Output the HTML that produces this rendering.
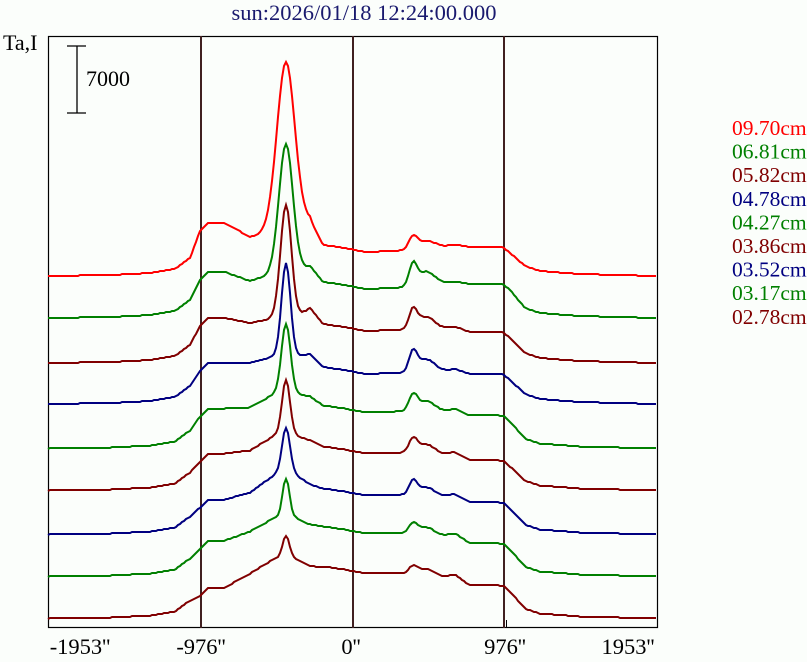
<!DOCTYPE html>
<html><head><meta charset="utf-8"><style>
html,body{margin:0;padding:0;background:#fbfefb;}
svg{display:block;}
text{font-family:"Liberation Serif",serif;}
</style></head><body>
<svg id="s" width="807" height="662" xmlns="http://www.w3.org/2000/svg">
<rect x="0" y="0" width="807" height="662" fill="#fbfefb"/>
<text x="364" y="20" font-size="22.5" fill="#1a1a6e" text-anchor="middle">sun:2026/01/18 12:24:00.000</text>
<text x="3" y="50" font-size="22" fill="#000">Ta,I</text>
<line x1="77" y1="46" x2="77" y2="113" stroke="#000" stroke-width="1.3"/>
<line x1="67" y1="46" x2="86" y2="46" stroke="#000" stroke-width="1.3"/>
<line x1="67" y1="113" x2="86" y2="113" stroke="#000" stroke-width="1.3"/>
<text x="86" y="86" font-size="22" fill="#000">7000</text>
<rect x="48.5" y="36.5" width="609" height="591" fill="none" stroke="#000" stroke-width="1.2"/>
<line x1="201" y1="36" x2="201" y2="628" stroke="#402020" stroke-width="2"/>
<line x1="353" y1="36" x2="353" y2="628" stroke="#402020" stroke-width="2"/>
<line x1="504" y1="36" x2="504" y2="628" stroke="#402020" stroke-width="2"/>
<line x1="506.5" y1="620" x2="506.5" y2="628" stroke="#000" stroke-width="1"/>
<g id="curves"></g>
<g font-size="22.5" fill="#000" text-anchor="middle">
<text x="80" y="654">-1953''</text>
<text x="201" y="654">-976''</text>
<text x="351" y="654">0''</text>
<text x="505" y="654">976''</text>
<text x="628" y="654">1953''</text>
</g>
<g font-size="21.5">
<text x="732" y="135" fill="#ff0000">09.70cm</text>
<text x="732" y="158.6" fill="#008000">06.81cm</text>
<text x="732" y="182.2" fill="#800000">05.82cm</text>
<text x="732" y="205.8" fill="#000080">04.78cm</text>
<text x="732" y="229.4" fill="#008000">04.27cm</text>
<text x="732" y="253" fill="#800000">03.86cm</text>
<text x="732" y="276.6" fill="#000080">03.52cm</text>
<text x="732" y="300.2" fill="#008000">03.17cm</text>
<text x="732" y="323.8" fill="#800000">02.78cm</text>
</g>
</svg>
<script>
var C=[
{b:276,c:'#ff0000',L:53,D:39,C:45,S:55,M:28,R:29,P:169,ps:9,B1:12,B2:8},
{b:318,c:'#008000',L:46,D:37,C:45,S:52,M:33,R:34,P:129,ps:7,B1:20,B2:14},
{b:363,c:'#800000',L:45,D:40,C:45,S:55,M:36,R:31,P:113,ps:5.5,B1:18,B2:13},
{b:404,c:'#000080',L:41,D:41,C:48,S:50,M:34,R:30,P:93,ps:4.5,B1:19,B2:13},
{b:448.5,c:'#008000',L:40,D:41,C:55,S:52,M:40,R:33,P:70,ps:4.5,B1:15,B2:11},
{b:490.5,c:'#800000',L:37,D:40,C:55,S:50,M:41,R:30,P:56,ps:4,B1:13,B2:10},
{b:534.5,c:'#000080',L:35,D:42,C:60,S:50,M:43,R:32,P:47,ps:4,B1:13,B2:9},
{b:576.5,c:'#008000',L:36,D:45,C:59,S:52,M:47,R:33,P:39,ps:3.5,B1:9,B2:8},
{b:618.5,c:'#800000',L:31,D:45,C:60,S:52,M:49,R:33,P:23,ps:3.5,B1:7,B2:7}
];
function interp(pts,x){for(var i=0;i<pts.length-1;i++){if(x>=pts[i][0]&&x<=pts[i+1][0]){var t=(x-pts[i][0])/(pts[i+1][0]-pts[i][0]);return pts[i][1]+t*(pts[i+1][1]-pts[i][1]);}}return 0;}
var g=document.getElementById('curves'),ns='http://www.w3.org/2000/svg';
C.forEach(function(k){
var m=(k.M+k.R)/2;
var pts=[[48,0],[110,1],[150,3],[175,7],[190,18],[200,k.L-8],[208,k.L],[225,k.L],[250,k.D],[275,k.C],[295,k.C],[310,k.S],[323,k.M+3],[345,k.M],[365,k.M-4],[395,k.M-3],[440,m],[455,m+3],[470,k.R],[503,k.R],[510,k.R-6],[525,10],[540,5],[580,2],[657,0]];
var d=[];
for(var x=48;x<=657;x+=2){
var h=interp(pts,x)+k.P*Math.exp(-Math.pow((x-286)/k.ps,2)/2)+k.B1*Math.exp(-Math.pow((x-413)/4,2)/2)+k.B2*Math.exp(-Math.pow((x-426)/9,2)/2);
d.push(x+','+Math.round(k.b-h));
}
var p=document.createElementNS(ns,'polyline');
p.setAttribute('points',d.join(' '));p.setAttribute('fill','none');p.setAttribute('stroke',k.c);p.setAttribute('stroke-width','2');
g.appendChild(p);
});
</script>
</body></html>
